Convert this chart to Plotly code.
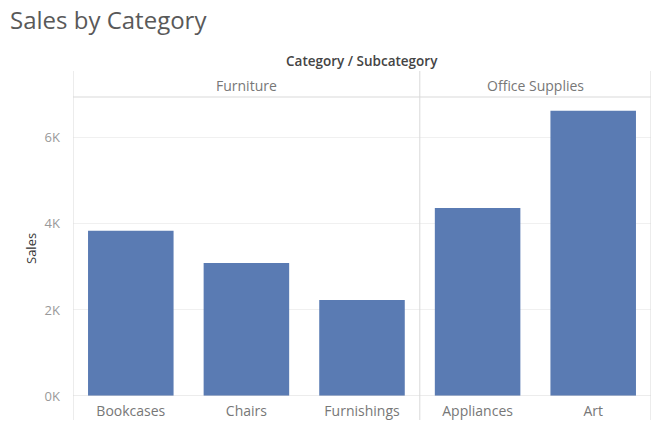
import plotly.graph_objects as go

subcategories = ["Bookcases", "Chairs", "Furnishings", "Appliances", "Art"]
categories = ["Furniture", "Furniture", "Furniture", "Office Supplies", "Office Supplies"]
sales = [3840, 3090, 2230, 4370, 6630]
tick_vals = [0, 2000, 4000, 6000]
tick_text = ["0K", "2K", "4K", "6K"]

W, H = 656, 431
L, R, T, B = 73, 5, 97, 35
ph = H - T - B
pw = W - L - R

FONT = "Open Sans, Noto Sans, sans-serif"
LINE = "#d9d9d9"

fig = go.Figure(go.Bar(
    x=subcategories, y=sales, marker=dict(color="#5a7bb3", line=dict(width=0)),
    width=0.74, hoverinfo="x+y"))

def py(pix):
    return (H - B - pix) / ph

def px(pix):
    return (pix - L) / pw

shapes = []
for xv in [-0.5, 2.5, 4.5]:
    shapes.append(dict(type="line", xref="x", yref="paper", x0=xv, x1=xv,
                       y0=py(420), y1=py(71), line=dict(color=LINE, width=1)))
shapes.append(dict(type="line", xref="x", yref="paper", x0=-0.5, x1=4.5,
                   y0=1, y1=1, line=dict(color=LINE, width=1)))
shapes.append(dict(type="line", xref="x", yref="y", x0=-0.5, x1=4.5,
                   y0=0, y1=0, line=dict(color=LINE, width=1)))

groups = {}
for i, c in enumerate(categories):
    groups.setdefault(c, []).append(i)
annotations = []
for c, idx in groups.items():
    annotations.append(dict(x=(idx[0] + idx[-1]) / 2, xref="x", y=py(85), yref="paper",
                            text=c, showarrow=False, font=dict(family=FONT, size=14, color="#777777"),
                            xanchor="center", yanchor="middle"))
annotations.append(dict(x=2, xref="x", y=py(61), yref="paper", text="Category / Subcategory",
                        showarrow=False, font=dict(family=FONT, size=13.5, color="#444444", weight=600),
                        xanchor="center", yanchor="middle"))
annotations.append(dict(x=px(8), xref="paper", y=py(20), yref="paper", text="Sales by Category",
                        showarrow=False, font=dict(family=FONT, size=24, color="#595959"),
                        xanchor="left", yanchor="middle"))
annotations.append(dict(x=px(31), xref="paper", y=py(249), yref="paper", text="Sales",
                        showarrow=False, textangle=-90, font=dict(family=FONT, size=13, color="#333333"),
                        xanchor="center", yanchor="middle"))

fig.update_layout(
    width=W, height=H, margin=dict(l=L, r=R, t=T, b=B),
    paper_bgcolor="white", plot_bgcolor="white", showlegend=False,
    font=dict(family=FONT),
    xaxis=dict(range=[-0.5, 4.5], showgrid=False, zeroline=False, showline=False,
               ticks="", tickfont=dict(size=14, color="#777777"), ticklabelstandoff=5),
    yaxis=dict(range=[0, 6950], tickvals=tick_vals, ticktext=tick_text, showgrid=True,
               gridcolor="#f0f0f0", zeroline=False, showline=False, ticks="",
               tickfont=dict(size=13, color="#999999"), ticklabelstandoff=12),
    shapes=shapes, annotations=annotations, bargap=0.26,
)

fig.write_html("out.html", config={"displayModeBar": False},
               post_script="document.body.style.margin='0px';")
